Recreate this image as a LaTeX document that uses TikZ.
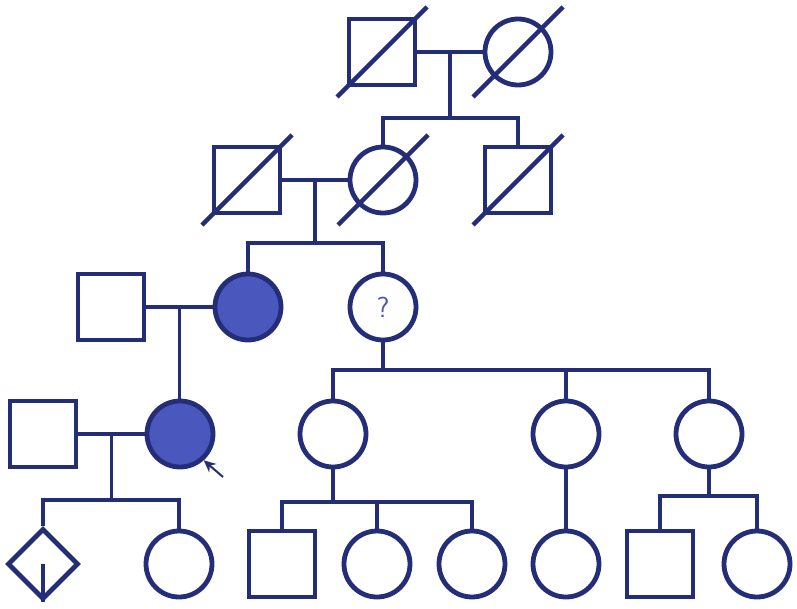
\documentclass[tikz,border=0pt]{standalone}
\usetikzlibrary{arrows.meta,calc,shapes.geometric}
\definecolor{pednavy}{RGB}{36,46,120}
\definecolor{affblue}{RGB}{74,88,190}
\tikzset{
  person/.style={
    draw=pednavy,
    line width=4.8pt,
    inner sep=0pt,
    fill=white
  },
  male/.style={person,rectangle,minimum size=66pt},
  female/.style={person,circle,minimum size=66pt},
  unknownsex/.style={person,diamond,minimum width=71pt,minimum height=71pt},
  affected/.style={fill=affblue},
  line/.style={draw=pednavy,line width=3.8pt},
  slash/.style={draw=pednavy,line width=4.4pt},
  pointer/.style={draw=pednavy,line width=2pt,-{Stealth[length=12pt,width=11pt]}}
}

\begin{document}
\begin{tikzpicture}[x=1pt,y=-1pt]
  \useasboundingbox (0,0) rectangle (797,608);

  % Generation I.
  \node[male] (ia) at (382,52) {};
  \node[female] (ib) at (518,52) {};
  \draw[slash] ($(ia)+(-45,45)$) -- ($(ia)+(45,-45)$);
  \draw[slash] ($(ib)+(-45,45)$) -- ($(ib)+(45,-45)$);
  \coordinate (ic) at ($(ia.east)!0.5!(ib.west)$);
  \coordinate (isib) at (450,118);
  \draw[line] (ia.east) -- (ib.west);

  % Generation II.
  \node[male] (iia) at (247,180) {};
  \node[female] (iib) at (383,180) {};
  \node[male] (iic) at (518,180) {};
  \draw[slash] ($(iia)+(-45,45)$) -- ($(iia)+(45,-45)$);
  \draw[slash] ($(iib)+(-45,45)$) -- ($(iib)+(45,-45)$);
  \draw[slash] ($(iic)+(-45,45)$) -- ($(iic)+(45,-45)$);
  \draw[line] (ic) -- (ic |- isib);
  \draw[line] (iib.north) -- (iib.north |- isib) -- (iic.north |- isib) -- (iic.north);
  \coordinate (iid) at ($(iia.east)!0.5!(iib.west)$);
  \coordinate (iisib) at (315,243);
  \draw[line] (iia.east) -- (iib.west);

  % Generation III.
  \node[male] (iiia) at (111,307) {};
  \node[female,affected] (iiib) at (248,307) {};
  \node[female] (iiic) at (383,307) {\fontsize{29}{29}\selectfont\sffamily\color{affblue}?};
  \draw[line] (iid) -- (iid |- iisib);
  \draw[line] (iiib.north) -- (iiib.north |- iisib) -- (iiic.north |- iisib) -- (iiic.north);
  \coordinate (iiid) at ($(iiia.east)!0.5!(iiib.west)$);
  \coordinate (iiisib) at (383,370);
  \draw[line] (iiia.east) -- (iiib.west);

  % Generation IV.
  \node[male] (iva) at (43,434) {};
  \node[female,affected] (ivb) at (180,434) {};
  \node[female] (ivc) at (333,434) {};
  \node[female] (ivd) at (566,434) {};
  \node[female] (ive) at (709,434) {};
  \draw[line] (iiid) -- (iiid |- ivb.north);
  \draw[line] (iiic.south) -- (iiisib);
  \draw[line] (ivc.north) -- (ivc.north |- iiisib) -- (ive.north |- iiisib) -- (ive.north);
  \draw[line] (ivd.north) -- (ivd.north |- iiisib);
  \draw[line] (iva.east) -- (ivb.west);
  \coordinate (ivf) at ($(iva.east)!0.5!(ivb.west)$);
  \coordinate (arrowtail) at (223,477);
  \draw[pointer] (arrowtail) -- (ivb.-48);

  % Generation V.
  \node[unknownsex] (va) at (43,564) {};
  \node[female] (vb) at (179,564) {};
  \node[male] (vc) at (282,564) {};
  \node[female] (vd) at (377,564) {};
  \node[female] (ve) at (472,564) {};
  \node[female] (vf) at (566,564) {};
  \node[male] (vg) at (660,564) {};
  \node[female] (vh) at (757,564) {};
  \draw[line] (va.center) -- (va.south);
  \draw[line] (ivf) -- (ivf |- 0,500);
  \draw[line] (va.north) -- (va.north |- 0,500) -- (vb.north |- 0,500) -- (vb.north);
  \draw[line] (ivc.south) -- (ivc.south |- 0,502);
  \draw[line] (vc.north) -- (vc.north |- 0,502) -- (ve.north |- 0,502) -- (ve.north);
  \draw[line] (vd.north) -- (vd.north |- 0,502);
  \draw[line] (ivd.south) -- (vf.north);
  \draw[line] (ive.south) -- (ive.south |- 0,496);
  \draw[line] (vg.north) -- (vg.north |- 0,496) -- (vh.north |- 0,496) -- (vh.north);
\end{tikzpicture}
\end{document}
